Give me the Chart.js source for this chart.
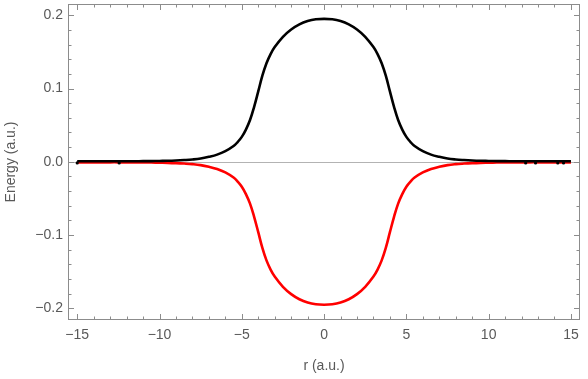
<!DOCTYPE html>
<html>
<head>
<meta charset="utf-8">
<script src="https://cdn.jsdelivr.net/npm/chart.js@4"></script>
<style>
  html, body { margin: 0; padding: 0; background: #fff; }
  #chart { display: block; }
</style>
</head>
<body>
<canvas id="chart" width="588" height="379"></canvas>
<script>
// Data
const rValues = [-15, -14.5, -14, -13.5, -13, -12.5, -12, -11.5, -11, -10.5, -10, -9.5, -9, -8.5, -8, -7.5, -7, -6.5, -6, -5.5,
  -5.25, -5, -4.75, -4.5, -4.25, -4, -3.75, -3.5, -3.25, -3, -2.5, -2, -1.5, -1, -0.5, 0,
  0.5, 1, 1.5, 2, 2.5, 3, 3.25, 3.5, 3.75, 4, 4.25, 4.5, 4.75, 5, 5.25,
  5.5, 6, 6.5, 7, 7.5, 8, 8.5, 9, 9.5, 10, 10.5, 11, 11.5, 12, 12.5, 13, 13.5, 14, 14.5, 15];

const upperEnergy = [0.0007, 0.0007, 0.0007, 0.0007, 0.0007, 0.0007, 0.0008, 0.0008, 0.0009, 0.0010, 0.0012, 0.0014, 0.0018, 0.0024, 0.0032, 0.0045, 0.0068, 0.0098, 0.0145, 0.0215,
  0.0270, 0.0340, 0.0440, 0.0570, 0.0750, 0.0960, 0.1175, 0.1345, 0.1470, 0.1565, 0.1705, 0.1805, 0.1875, 0.1920, 0.1944, 0.1950,
  0.1944, 0.1920, 0.1875, 0.1805, 0.1705, 0.1565, 0.1470, 0.1345, 0.1175, 0.0960, 0.0750, 0.0570, 0.0440, 0.0340, 0.0270,
  0.0215, 0.0145, 0.0098, 0.0068, 0.0045, 0.0032, 0.0024, 0.0018, 0.0014, 0.0012, 0.0010, 0.0009, 0.0008, 0.0008, 0.0007, 0.0007, 0.0007, 0.0007, 0.0007, 0.0007];

const lowerEnergy = [-0.0007, -0.0007, -0.0007, -0.0007, -0.0007, -0.0007, -0.0008, -0.0008, -0.0009, -0.0010, -0.0012, -0.0014, -0.0018, -0.0024, -0.0032, -0.0045, -0.0068, -0.0098, -0.0145, -0.0215,
  -0.0270, -0.0340, -0.0440, -0.0570, -0.0750, -0.0960, -0.1175, -0.1345, -0.1470, -0.1565, -0.1705, -0.1805, -0.1875, -0.1920, -0.1944, -0.1950,
  -0.1944, -0.1920, -0.1875, -0.1805, -0.1705, -0.1565, -0.1470, -0.1345, -0.1175, -0.0960, -0.0750, -0.0570, -0.0440, -0.0340, -0.0270,
  -0.0215, -0.0145, -0.0098, -0.0068, -0.0045, -0.0032, -0.0024, -0.0018, -0.0014, -0.0012, -0.0010, -0.0009, -0.0008, -0.0008, -0.0007, -0.0007, -0.0007, -0.0007, -0.0007, -0.0007];

// small stray dots sitting on the black line near the ends
const noiseR = [-15, -12.45, 12.25, 12.85, 14.2, 14.55];
const noiseE = [-0.0015, -0.0015, -0.0015, -0.0015, -0.0015, -0.0015];

const xTicks = [-15, -10, -5, 0, 5, 10, 15];
const yTicks = [-0.2, -0.1, 0.0, 0.1, 0.2];
const xMinor = [-14, -13, -12, -11, -9, -8, -7, -6, -4, -3, -2, -1, 1, 2, 3, 4, 6, 7, 8, 9, 11, 12, 13, 14];
const yMinor = [-0.18, -0.16, -0.14, -0.12, -0.08, -0.06, -0.04, -0.02, 0.02, 0.04, 0.06, 0.08, 0.12, 0.14, 0.16, 0.18];

const xTitle = "r (a.u.)";
const yTitle = "Energy (a.u.)";

const FONT = '"Liberation Sans", Arial, sans-serif';
const TEXT = "#595959";
const FRAME = "#8c8c8c";

function toPoints(xs, ys) {
  return xs.map((x, i) => ({ x: x, y: ys[i] }));
}

function minus(s) {
  return String(s).replace("-", "\u2212");
}

// Zero line, frame, inward ticks and axis titles
const framePlugin = {
  id: "frame",
  beforeDatasetsDraw(chart) {
    const { ctx, chartArea, scales } = chart;
    const y0 = Math.round(scales.y.getPixelForValue(0)) + 0.5;
    ctx.save();
    ctx.strokeStyle = "#b3b3b3";
    ctx.lineWidth = 1;
    ctx.beginPath();
    ctx.moveTo(chartArea.left, y0);
    ctx.lineTo(chartArea.right, y0);
    ctx.stroke();
    ctx.restore();
  },
  afterDraw(chart) {
    const { ctx, chartArea, scales } = chart;
    const { left, right, top, bottom } = chartArea;
    ctx.save();
    ctx.strokeStyle = FRAME;
    ctx.lineWidth = 1;
    ctx.strokeRect(left + 0.5, top + 0.5, right - left - 1, bottom - top - 1);

    ctx.beginPath();
    const xTick = (v, len) => {
      const px = Math.round(scales.x.getPixelForValue(v)) + 0.5;
      ctx.moveTo(px, bottom);
      ctx.lineTo(px, bottom - len);
      ctx.moveTo(px, top);
      ctx.lineTo(px, top + len);
    };
    const yTick = (v, len) => {
      const py = Math.round(scales.y.getPixelForValue(v)) + 0.5;
      ctx.moveTo(left, py);
      ctx.lineTo(left + len, py);
      ctx.moveTo(right, py);
      ctx.lineTo(right - len, py);
    };
    xTicks.forEach((v) => xTick(v, 6));
    xMinor.forEach((v) => xTick(v, 3.5));
    yTicks.forEach((v) => yTick(v, 6));
    yMinor.forEach((v) => yTick(v, 3.5));
    ctx.stroke();

    // Axis titles
    ctx.fillStyle = TEXT;
    ctx.font = "14px " + FONT;
    ctx.textAlign = "center";
    ctx.textBaseline = "middle";
    ctx.fillText(xTitle, (left + right) / 2, 366);
    ctx.translate(11, (top + bottom) / 2);
    ctx.rotate(-Math.PI / 2);
    ctx.fillText(yTitle, 0, 0);
    ctx.restore();
  },
};

new Chart(document.getElementById("chart"), {
  type: "line",
  data: {
    datasets: [
      {
        label: "noise",
        data: toPoints(noiseR, noiseE),
        showLine: false,
        pointRadius: 1.6,
        pointBackgroundColor: "#000",
        pointBorderWidth: 0,
        order: 0,
      },
      {
        label: "upper",
        data: toPoints(rValues, upperEnergy),
        borderColor: "#000000",
        borderWidth: 2.6,
        pointRadius: 0,
        tension: 0.4,
        order: 1,
      },
      {
        label: "lower",
        data: toPoints(rValues, lowerEnergy),
        borderColor: "#ff0000",
        borderWidth: 2.6,
        pointRadius: 0,
        tension: 0.4,
        order: 2,
      },
    ],
  },
  options: {
    responsive: false,
    animation: false,
    devicePixelRatio: 1,
    layout: { padding: { top: 1, right: 8, left: 0, bottom: 0 } },
    plugins: {
      legend: { display: false },
      tooltip: { enabled: false },
    },
    scales: {
      x: {
        type: "linear",
        min: -15.56,
        max: 15.55,
        border: { display: false },
        grid: { display: false, drawTicks: false },
        afterBuildTicks: (scale) => { scale.ticks = xTicks.map((v) => ({ value: v })); },
        afterFit: (scale) => {
          scale.height = 59;
          scale.paddingLeft = 0;
          scale.paddingRight = 0;
        },
        ticks: {
          padding: 7,
          maxRotation: 0,
          color: TEXT,
          font: { family: FONT, size: 14 },
          callback: (v) => minus(v),
        },
      },
      y: {
        type: "linear",
        min: -0.2158,
        max: 0.2153,
        border: { display: false },
        grid: { display: false, drawTicks: false },
        afterBuildTicks: (scale) => { scale.ticks = yTicks.map((v) => ({ value: v })); },
        afterFit: (scale) => {
          scale.width = 68;
          scale.paddingTop = 0;
          scale.paddingBottom = 0;
        },
        ticks: {
          padding: 5,
          color: TEXT,
          font: { family: FONT, size: 14 },
          callback: (v) => minus(Number(v).toFixed(1)),
        },
      },
    },
  },
  plugins: [framePlugin],
});
</script>
</body>
</html>
